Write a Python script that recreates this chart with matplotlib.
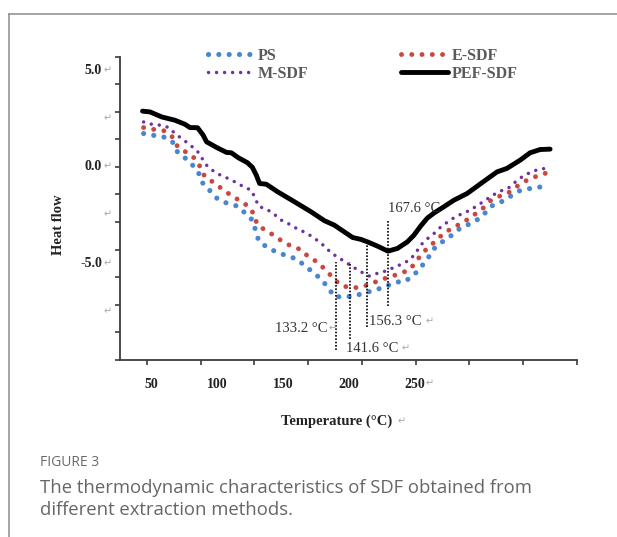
import matplotlib.pyplot as plt
import numpy as np
from matplotlib.lines import Line2D

# ---- data ----
temp_pef = [43.1, 48.8, 57.7, 67.7, 75.3, 79.1, 84.9, 89.2, 91.7, 99.3, 106.9, 110.6, 115.7,
            122.7, 126.5, 129.5, 132.0, 137.1, 145.9, 158.5, 171.1, 181.2, 188.7, 196.3, 202.6,
            208.9, 214.0, 221.5, 229.5, 236.7, 244.2, 249.2, 254.3, 259.3, 264.3, 271.9, 279.5,
            289.6, 300.9, 312.3, 319.8, 329.9, 337.4, 345.0, 352.6]
heat_pef = [2.89, 2.85, 2.59, 2.42, 2.21, 2.04, 2.03, 1.64, 1.30, 1.01, 0.75, 0.73, 0.48,
            0.22, -0.02, -0.43, -0.86, -0.90, -1.30, -1.81, -2.33, -2.79, -3.02, -3.37, -3.66,
            -3.76, -3.89, -4.11, -4.37, -4.23, -3.89, -3.54, -3.07, -2.66, -2.40, -2.07, -1.73,
            -1.38, -0.82, -0.26, -0.08, 0.35, 0.73, 0.90, 0.92]

temp_ps = [43.9, 51.9, 59.7, 65.8, 69.6, 75.8, 81.7, 86.2, 89.2, 94.7, 100.3, 107.8, 115.4,
           121.2, 127.0, 129.0, 131.3, 137.8, 145.2, 152.7, 160.3, 166.6, 172.8, 178.7, 184.0,
           188.7, 196.3, 203.8, 211.9, 219.7, 227.1, 235.4, 242.2, 249.8, 255.1, 259.9, 264.3,
           270.7, 277.0, 283.2, 290.8, 297.6, 303.4, 309.2, 316.5, 323.1, 329.4, 337.4, 345.5]
heat_ps = [1.73, 1.63, 1.54, 1.30, 0.78, 0.44, 0.05, -0.38, -0.90, -1.26, -1.68, -1.90, -2.04,
           -2.41, -2.79, -3.32, -3.83, -4.18, -4.43, -4.61, -4.78, -5.15, -5.47, -5.83, -6.25,
           -6.73, -6.74, -6.70, -6.53, -6.39, -6.22, -5.97, -5.96, -5.56, -5.15, -4.73, -4.25,
           -3.89, -3.59, -3.24, -2.98, -2.73, -2.38, -1.98, -1.78, -1.50, -1.24, -1.12, -1.04]

temp_e = [43.9, 51.9, 59.7, 65.8, 69.6, 75.8, 82.9, 87.2, 90.4, 97.2, 103.6, 110.0, 116.7,
          123.2, 127.8, 130.0, 135.3, 142.1, 148.6, 156.0, 163.0, 169.1, 176.2, 181.7, 187.5,
          193.3, 200.8, 208.2, 215.9, 223.5, 231.1, 239.2, 246.2, 251.2, 256.3, 262.1, 268.1,
          274.5, 281.5, 288.3, 294.6, 301.4, 307.2, 314.2, 321.6, 328.1, 335.0, 342.5, 350.1]
heat_e = [2.04, 1.94, 1.87, 1.55, 1.07, 0.78, 0.44, -0.03, -0.51, -0.81, -1.15, -1.46, -1.74,
          -2.03, -2.45, -2.97, -3.24, -3.52, -3.83, -4.11, -4.28, -4.66, -4.95, -5.32, -5.73,
          -6.13, -6.27, -6.25, -6.08, -5.87, -5.70, -5.52, -5.32, -4.87, -4.42, -4.07, -3.67,
          -3.33, -3.06, -2.80, -2.50, -2.16, -1.76, -1.52, -1.31, -0.98, -0.69, -0.48, -0.31]

temp_m = [43.9, 50.1, 57.2, 63.2, 68.3, 73.6, 78.6, 84.2, 87.9, 91.2, 96.5, 102.3, 108.1,
          113.9, 120.1, 125.7, 128.8, 131.3, 136.8, 142.4, 147.8, 153.5, 159.2, 165.6, 171.1,
          176.6, 181.5, 186.5, 192.3, 197.6, 203.4, 208.9, 215.2, 221.5, 227.8, 233.9, 239.9,
          246.0, 250.5, 254.3, 258.8, 263.9, 268.9, 274.5, 280.0, 286.3, 292.1, 297.9, 303.5,
          309.0, 314.8, 321.1, 326.1, 331.2, 337.4, 343.7, 350.1]
heat_m = [2.33, 2.21, 2.16, 2.04, 1.69, 1.44, 1.16, 0.87, 0.49, 0.12, -0.19, -0.43, -0.60,
          -0.80, -1.04, -1.21, -1.65, -2.05, -2.18, -2.41, -2.74, -2.93, -3.16, -3.37, -3.58,
          -3.85, -4.13, -4.47, -4.72, -4.96, -5.21, -5.44, -5.66, -5.52, -5.40, -5.22, -5.04,
          -4.83, -4.47, -4.06, -3.76, -3.49, -3.16, -2.87, -2.62, -2.41, -2.24, -1.98, -1.73,
          -1.47, -1.26, -1.09, -0.79, -0.52, -0.29, -0.13, -0.07]

peak_labels = ['133.2 \u00b0C', '141.6 \u00b0C', '156.3 \u00b0C', '167.6 \u00b0C']
peak_x = [189.7, 200.5, 213.7, 229.7]
peak_top = [-4.94, -4.92, -3.97, -2.76]
peak_bottom = [-9.50, -8.94, -8.29, -7.22]

xtick_labels = ['50', '100', '150', '200', '250']
xtick_values = [50, 100, 150, 200, 250]
ytick_labels = ['5.0', '', '0.0', '', '-5.0', '']
ytick_values = [5.0, 2.5, 0.0, -2.5, -5.0, -7.5]

W, H = 617, 537
SERIF = ['Liberation Serif', 'DejaVu Sans']
RET = '\u21b5'
RET_COL = '#a8a8a8'
AX_COL = '#3c3c3c'

fig = plt.figure(figsize=(W / 100, H / 100), dpi=100)

def fx(px):
    return px / W

def fy(py):
    return 1 - py / H

# outer frame of the figure panel
fig.add_artist(Line2D([fx(9), fx(9)], [fy(14), 0], color='#8a8a8a', lw=1.1))
fig.add_artist(Line2D([fx(9), 1], [fy(14), fy(14)], color='#8a8a8a', lw=1.1))

ax = fig.add_axes([fx(120), fy(359.7), fx(576.7) - fx(120), fy(56.7) - fy(359.7)])
ax.set_xlim(26.0, 372.8)
ax.set_ylim(-10, 40 / 7)

l_ps, = ax.plot(temp_ps, heat_ps, color='#4a86cf', lw=3.7, ls=(0, (0.01, 2.0)),
                dash_capstyle='round', label='PS')
l_e, = ax.plot(temp_e, heat_e, color='#c9473f', lw=3.5, ls=(0, (0.01, 2.1)),
               dash_capstyle='round', label='E-SDF')
l_m, = ax.plot(temp_m, heat_m, color='#7030a0', lw=2.5, ls=(0, (0.01, 2.3)),
               dash_capstyle='round', label='M-SDF')
l_pef, = ax.plot(temp_pef, heat_pef, color='black', lw=3.5, solid_joinstyle='round',
                 solid_capstyle='round', label='PEF-SDF')

for x0, y0, y1 in zip(peak_x, peak_top, peak_bottom):
    ax.vlines(x0, y1, y0, colors='black', lw=1.2, linestyles=(0, (1, 1)))

ann_font = dict(family=SERIF, fontsize=10.5, color='#333333')
ax.text(183.6, -8.38, peak_labels[0], ha='right', va='center', **ann_font)
ax.text(184.0, -8.38, RET, ha='left', va='center', family=SERIF, fontsize=7, color=RET_COL)
for lab, tx, ty in zip(peak_labels[1:3], [197.3, 215.0], [-9.42, -8.03]):
    t = ax.text(tx, ty, lab + ' ', ha='left', va='center', **ann_font)
    ax.annotate(RET, xy=(1, 0.5), xycoords=t, va='center', ha='left',
                family=SERIF, fontsize=7, color=RET_COL)
ax.text(229.4, -2.14, peak_labels[3], ha='left', va='center', **ann_font)

# axes look
for side in ['top', 'right']:
    ax.spines[side].set_visible(False)
for side in ['left', 'bottom']:
    ax.spines[side].set_color(AX_COL)
    ax.spines[side].set_linewidth(1.3)
ax.set_xticks(250.4 + 40.8 * np.arange(-5, 4))
ax.set_yticks(np.arange(-7, 5) * 10 / 7)
ax.tick_params(direction='out', length=3.5, width=1.2, color=AX_COL,
               labelbottom=False, labelleft=False)

lab_font = dict(family=SERIF, fontsize=10, fontweight='bold', color='#222222')
for v, s in zip(xtick_values, xtick_labels):
    t = ax.annotate(s, xy=(v, 0), xycoords=('data', 'axes fraction'),
                    xytext=(0, -17.5), textcoords='offset points',
                    ha='center', va='center', **lab_font)
    if s == '250':
        ax.annotate(RET, xy=(1, 0.5), xycoords=t, va='center', ha='left',
                    family=SERIF, fontsize=7, color=RET_COL)
for v, s in zip(ytick_values, ytick_labels):
    if s:
        ax.annotate(s, xy=(0, v), xycoords=('axes fraction', 'data'),
                    xytext=(-13, 0), textcoords='offset points',
                    ha='right', va='center', **lab_font)
    ax.annotate(RET, xy=(0, v), xycoords=('axes fraction', 'data'),
                xytext=(-12, 0), textcoords='offset points',
                ha='left', va='center', family=SERIF, fontsize=7, color=RET_COL)

fig.text(fx(58), fy(225), 'Heat flow', rotation=90, ha='center', va='center',
         family=SERIF, fontsize=10.5, fontweight='bold', color='#222222')
fig.text(fx(337), fy(421), 'Temperature (\u00b0C)', ha='center', va='center',
         family=SERIF, fontsize=10.5, fontweight='bold', color='#222222')
fig.text(fx(398), fy(422), RET, ha='left', va='center', family=SERIF, fontsize=7,
         color=RET_COL)

leg = fig.legend([l_ps, l_m, l_e, l_pef], ['PS', 'M-SDF', 'E-SDF', 'PEF-SDF'],
                 ncol=2, loc='upper left', bbox_to_anchor=(fx(208), fy(48)),
                 frameon=False, borderpad=0, borderaxespad=0, handlelength=2.94,
                 handletextpad=0.19, columnspacing=5.8, labelspacing=0.1,
                 prop=dict(family=SERIF, size=11.5, weight='bold'))
for t in leg.get_texts():
    t.set_color('#5a5a5a')

# caption
fig.text(fx(40), fy(462), 'FIGURE 3', ha='left', va='center', family='Open Sans',
         fontsize=10, color='#6a6a6a')
fig.text(fx(40), fy(488), 'The thermodynamic characteristics of SDF obtained from',
         ha='left', va='center', family='Open Sans', fontsize=13.3, color='#666666')
fig.text(fx(40), fy(510), 'different extraction methods.', ha='left', va='center',
         family='Open Sans', fontsize=13.3, color='#666666')

fig.savefig('out.png', dpi=100)
